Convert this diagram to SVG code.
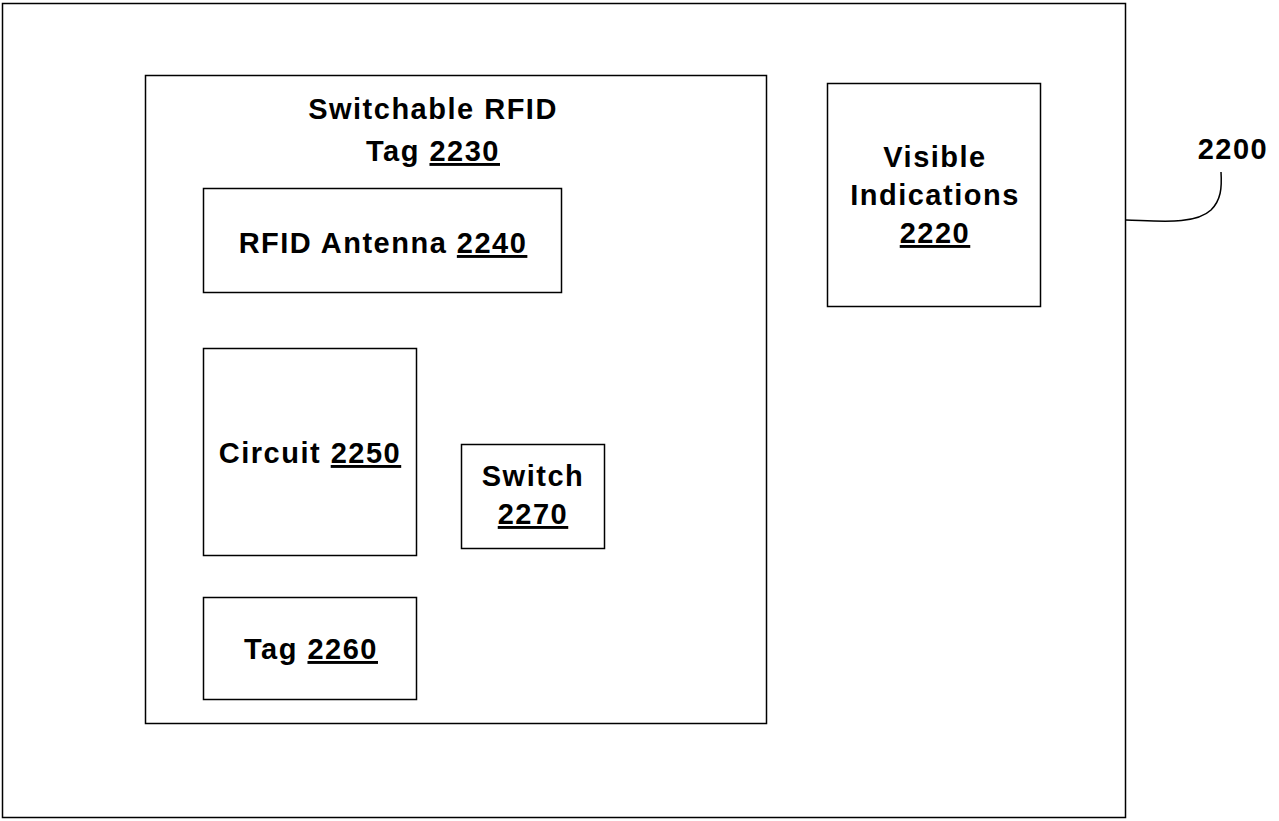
<svg xmlns="http://www.w3.org/2000/svg" width="1279" height="821" viewBox="0 0 1279 821">
<style>
.box{fill:#fff;stroke:#000;stroke-width:1.5}
.t{font-family:"Liberation Sans",Arial,sans-serif;font-weight:bold;font-size:29px;letter-spacing:1.5px;fill:#000;text-anchor:middle}
.u{text-decoration:underline}
.lead{fill:none;stroke:#000;stroke-width:1.5}
</style>
<rect width="1279" height="821" fill="#fff"/>
<g id="n2200"><rect class="box" x="2.5" y="3.5" width="1123" height="814"/>
<text class="t" x="1233" y="159">2200</text></g>
<g id="n2230"><rect class="box" x="145.5" y="75.5" width="621" height="648"/>
<text class="t" x="433" y="119">Switchable RFID</text>
<text class="t" x="433" y="161">Tag <tspan class="u">2230</tspan></text></g>
<g id="n2240"><rect class="box" x="203.5" y="188.5" width="358" height="104"/>
<text class="t" x="383" y="253">RFID Antenna <tspan class="u">2240</tspan></text></g>
<g id="n2220"><rect class="box" x="827.5" y="83.5" width="213" height="223"/>
<text class="t" x="935" y="167">Visible</text>
<text class="t" x="935" y="205">Indications</text>
<text class="t" x="935" y="243"><tspan class="u">2220</tspan></text></g>
<g id="n2250"><rect class="box" x="203.5" y="348.5" width="213" height="207"/>
<text class="t" x="310" y="463">Circuit <tspan class="u">2250</tspan></text></g>
<g id="n2270"><rect class="box" x="461.5" y="444.5" width="143" height="104"/>
<text class="t" x="533" y="486">Switch</text>
<text class="t" x="533" y="524"><tspan class="u">2270</tspan></text></g>
<g id="n2260"><rect class="box" x="203.5" y="597.5" width="213" height="102"/>
<text class="t" x="311" y="659">Tag <tspan class="u">2260</tspan></text></g>
<g id="connectors"><path class="lead" d="M1126,220 C1160,221 1195,225 1211,210 C1221,200 1222,188 1221,172"/></g>
</svg>
